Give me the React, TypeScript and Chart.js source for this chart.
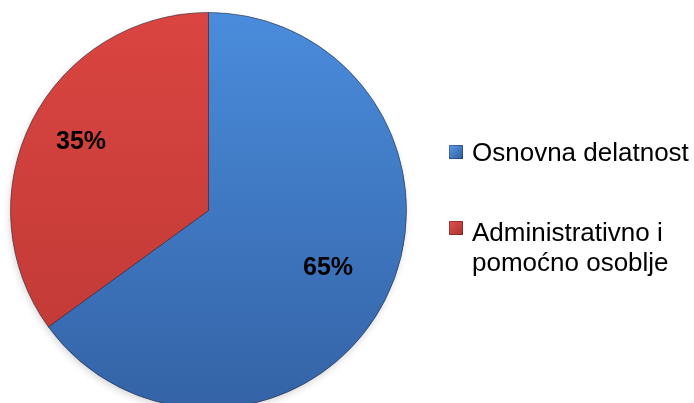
import React, { useEffect, useRef } from "react";
import { Chart, registerables } from "chart.js";

Chart.register(...registerables);

const categories: string[] = ["Osnovna delatnost", "Administrativno i pomoćno osoblje"];
const values: number[] = [65, 35];
const percentLabels: string[] = ["65%", "35%"];

const gradStops: [string, string][] = [
  ["#4A8CDC", "#3463A6"],
  ["#DA4541", "#BD3834"],
];

const shadowPlugin = {
  id: "pieShadow",
  beforeDatasetsDraw(chart: any) {
    const meta = chart.getDatasetMeta(0);
    const arc = meta.data[0];
    if (!arc) return;
    const { x, y, outerRadius } = arc.getProps(["x", "y", "outerRadius"], true);
    const ctx = chart.ctx;
    ctx.save();
    ctx.beginPath();
    ctx.arc(x, y, outerRadius, 0, Math.PI * 2);
    ctx.fillStyle = "rgba(0,0,0,0.35)";
    ctx.shadowColor = "rgba(0,0,0,0.45)";
    ctx.shadowBlur = 7;
    ctx.shadowOffsetX = -1;
    ctx.shadowOffsetY = 3;
    ctx.fill();
    ctx.restore();
  },
};

const labelPlugin = {
  id: "pctLabels",
  afterDatasetsDraw(chart: any) {
    const meta = chart.getDatasetMeta(0);
    const ctx = chart.ctx;
    ctx.save();
    ctx.font = "bold 25px 'Liberation Sans', Arial, sans-serif";
    ctx.fillStyle = "#000";
    ctx.textAlign = "center";
    ctx.textBaseline = "middle";
    meta.data.forEach((arc: any, i: number) => {
      const { x, y, startAngle, endAngle, outerRadius } = arc.getProps(
        ["x", "y", "startAngle", "endAngle", "outerRadius"],
        true
      );
      const mid = (startAngle + endAngle) / 2;
      const r = outerRadius * 0.7;
      ctx.fillText(percentLabels[i], x + Math.cos(mid) * r - 4, y + Math.sin(mid) * r - 5);
    });
    ctx.restore();
  },
};

export default function App() {
  const ref = useRef<HTMLCanvasElement | null>(null);

  useEffect(() => {
    if (!ref.current) return;
    const chart = new Chart(ref.current, {
      type: "pie",
      data: {
        labels: categories,
        datasets: [
          {
            data: values,
            backgroundColor: (c: any) => {
              const ch = c.chart;
              const area = ch.chartArea;
              const stops = gradStops[c.dataIndex] || gradStops[0];
              if (!area) return stops[0];
              const g = ch.ctx.createLinearGradient(0, area.top, 0, area.bottom);
              g.addColorStop(0, stops[0]);
              g.addColorStop(1, stops[1]);
              return g;
            },
            borderColor: "rgba(30,35,55,0.5)",
            borderWidth: 1,
          },
        ],
      },
      options: {
        responsive: false,
        animation: false,
        layout: { padding: { left: 10, top: 12, right: 287, bottom: 11 } },
        plugins: {
          legend: { display: false },
          tooltip: { enabled: false },
        },
      },
      plugins: [shadowPlugin, labelPlugin],
    });
    return () => chart.destroy();
  }, []);

  const textStyle: React.CSSProperties = {
    position: "absolute",
    left: 472,
    fontFamily: "'Liberation Sans', Arial, sans-serif",
    fontSize: 26,
    lineHeight: "30px",
    color: "#000",
    whiteSpace: "nowrap",
  };
  const sq = (a: string, b: string, top: number): React.CSSProperties => ({
    position: "absolute",
    left: 449,
    top,
    width: 14,
    height: 14,
    background: `linear-gradient(135deg, ${a}, ${b})`,
    boxShadow: "inset 0 0 0 1px rgba(0,0,0,0.25)",
  });

  return (
    <div
      style={{
        position: "absolute",
        left: 0,
        top: 0,
        width: 694,
        height: 403,
        overflow: "hidden",
        background: "#fff",
      }}
    >
      <canvas ref={ref} width={694} height={420} style={{ display: "block" }} />
      <div style={sq("#5B9AE6", "#2E5C9E", 145)} />
      <div style={{ ...textStyle, top: 137 }}>{categories[0]}</div>
      <div style={sq("#E4504C", "#A83230", 221)} />
      <div style={{ ...textStyle, top: 217 }}>
        Administrativno i
        <br />
        pomoćno osoblje
      </div>
    </div>
  );
}
